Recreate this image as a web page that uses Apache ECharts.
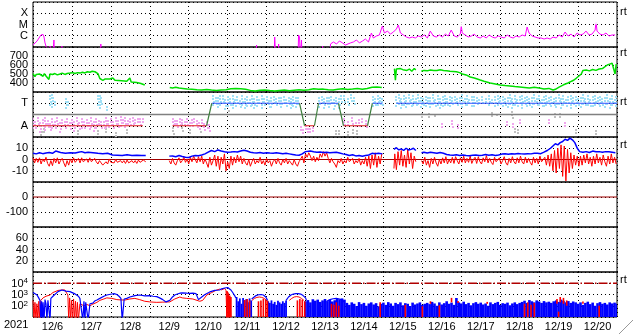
<!DOCTYPE html>
<html><head><meta charset="utf-8">
<script src="https://cdn.jsdelivr.net/npm/echarts@6/dist/echarts.min.js"></script>
<style>html,body{margin:0;padding:0;background:#fff}#c{width:633px;height:334px}</style>
</head><body><div id="c"></div>
<script>
// ---------- time axis (hours from 2021-12-06 00:00) ----------
const dayLabels = ['12/6','12/7','12/8','12/9','12/10','12/11','12/12','12/13','12/14','12/15','12/16','12/17','12/18','12/19','12/20'];
const yearLabel = '2021';
const xrayLevelLabels = {'-4':'X','-5':'M','-6':'C'};
const sectorLabels = {'270':'T','90':'A'};

// ---------- panel 1: X-ray flux (W/m2) ----------
const xrayFlux = [
[0,1.5e-7],[1.2,1.85e-7],[2.5,3.4e-7],[3.7,6.3e-7],[4.9,1.17e-6],[6.2,1.3e-6],[6.8,7.7e-7],[7.4,2.3e-7],[8,1.2e-7],[8.6,1e-8],
[10.2,1e-8],[10.5,1.2e-7],[11.7,1.2e-7],[12.1,1e-8],[12.6,1e-8],[12.9,4.2e-7],[13.3,1e-8],
[17.5,1e-8],[17.8,1.2e-7],[18.3,1e-8],[41.5,1e-8],[41.8,1.85e-7],[42.3,1e-8],
[137.5,1e-8],[137.8,1.5e-7],[138.2,1e-8],[148.6,1e-8],[149,7.7e-7],[149.6,1e-8],
[151.1,1e-8],[151.4,1.85e-7],[151.8,1e-8],[163.4,1e-8],[163.7,1.17e-6],[164.3,7.7e-7],[164.8,1e-8],
[165.2,1e-8],[165.5,4.2e-7],[165.9,1e-8],[178.2,1e-8],[178.5,1.2e-7],[178.9,1e-8],[183,1e-8],
[183.4,1.85e-7],[185.2,2.8e-7],[187.1,1.85e-7],[188.9,3.4e-7],[190.8,2.3e-7],[192.6,1.5e-7],[193.8,1.2e-7],[195.7,2.3e-7],[197.5,2.8e-7],[199.4,4.2e-7],
[201.2,2.3e-7],[203.1,3.4e-7],[204.9,5.1e-7],[206.8,2.8e-7],[208.6,1.75e-6],[209.8,6.3e-7],[211.7,9.5e-7],[213.5,1.17e-6],[215.4,7.4e-6],[216.6,1.75e-6],
[218.5,2.6e-6],[220.3,1.4e-6],[222.2,2.15e-6],[224,4e-6],[225.2,9e-6],[226.5,1.75e-6],[228.3,1.17e-6],[230.2,7.7e-7],[232,6.3e-7],[233.8,7.7e-7],
[235.7,6.3e-7],[237.5,9.5e-7],[239.4,7.7e-7],[241.2,1.17e-6],[243.1,6.3e-7],[244.9,2.6e-6],[246.8,9.5e-7],[248.6,7.7e-7],[250.5,1.17e-6],[252.3,7.7e-7],
[254.2,1.4e-6],[256,9.5e-7],[257.8,3.2e-6],[259.7,9.5e-7],[261.5,7.7e-7],[263.4,1.4e-6],[264,7.4e-6],[264.6,1.75e-6],[266.5,1.17e-6],[268.3,7.7e-7],
[270.2,9.5e-7],[272,1.4e-6],[273.8,7.7e-7],[275.7,6.3e-7],[277.5,9.5e-7],[279.4,6.3e-7],[281.2,1.17e-6],[283.1,7.7e-7],[284.9,6.3e-7],[286.8,9.5e-7],
[288.6,7.7e-7],[290.5,6.3e-7],[292.3,1.17e-6],[294.2,7.7e-7],[296,6.3e-7],[297.8,9.5e-7],[299.7,7.7e-7],[301.5,1.17e-6],[303.4,9.5e-7],[304.6,6e-6],
[305.8,1.75e-6],[307.7,9.5e-7],[309.5,7.7e-7],[311.4,6.3e-7],[313.2,6.3e-7],[315.1,5.1e-7],[316.9,6.3e-7],[318.8,5.1e-7],[320.6,7.7e-7],[322.5,6.3e-7],
[324.3,1.17e-6],[326.2,7.7e-7],[328,2.15e-6],[329.8,9.5e-7],[331.7,1.4e-6],[333.5,7.7e-7],[335.4,1.75e-6],[337.2,1.17e-6],[339.1,1.4e-6],[340.9,2.6e-6],
[342.8,1.17e-6],[344.6,1.4e-6],[346.5,3.2e-6],[347.1,1.67e-5],[347.7,2.6e-6],[349.5,1.4e-6],[351.4,1.17e-6],[353.2,1.75e-6],[355.1,9.5e-7],[356.9,1.17e-6],[358.8,1.17e-6]
];
const flarePeaks = [[264,1.3e-5],[347.1,2e-5]];

// ---------- panel 2: solar wind speed (km/s) ----------
const windSpeed = [
[0,505],[1.2,470],[2,495],[3.1,480],[4,500],[4.9,490],[6.2,475],[7,505],[8,478],[9.2,490],[9.8,440],[10.5,500],[12,495],[13.5,505],[15,490],[16.6,500],
[18,510],[19.7,495],[21,505],[22.8,510],[24.5,515],[25.8,505],[27.5,515],[28.9,510],[30.5,520],[32,512],[33.5,525],[35.1,520],[36.5,530],[38.2,525],
[40,505],[41.2,450],[43.1,430],[44.5,445],[45.5,440],[47.4,445],[49.2,455],[50.5,430],[51.7,422],[54.8,425],[57.8,420],[59.7,455],[60.5,410],[61.5,400],
[64,405],[66.5,395],[68.9,378],[69,null],
[84.3,350],[86,345],[88,352],[90,344],[92.3,340],[95,333],[98,330],[101,325],[104,322],[107,328],[110,322],[113,318],[116,322],[119,325],[122,335],
[125,340],[128,336],[131,330],[134,318],[137,312],[140,320],[143,322],[146,316],[149,312],[152,318],[155,322],[158,315],[161,320],[164,325],[167,320],
[170,325],[173,335],[176,330],[179,332],[182,325],[185,322],[188,330],[191,335],[194,328],[197,332],[200,338],[203,330],[206,340],[209,352],[212,356],
[215,350],[215.2,null],
[222.8,560],[223.4,430],[224,555],[225,545],[226.5,560],[228,548],[229,565],[230.5,540],[232,555],[233.5,530],[235,560],[236,545],[236.2,null],
[239.4,530],[241,540],[243,535],[245,545],[247,540],[249,538],[251,548],[253,540],[255,535],[257,530],[259,528],[261,525],[263,515],[264.6,500],
[267,490],[269.5,467],[272,455],[275.7,433],[278,420],[281.8,400],[285,390],[288,378],[291,372],[294,367],[297,360],[300,355],[303,350],[306,345],
[309,352],[312,344],[315,333],[318,340],[320.6,322],[322,330],[324.3,355],[327,380],[329.8,400],[332,420],[333.5,433],[335,455],[336.5,478],[338,500],
[339,540],[341,545],[343,535],[345,550],[347,540],[349,555],[351,560],[352,580],[354,600],[355.5,610],[357,620],[358,600],[358.8,500],[359.5,610]
];

// ---------- panel 3: IMF sector (phi, deg) ----------
const phiToward = [
[10.5,256,336],[11.5,232,352],[12.5,272,320],[13.5,248,300],[20.3,216,312],[21.5,240,296],[40,256,336],[41,232,344],[42,264,320],[45.5,216,256],
[111,240,336],[112.5,256,328],[114,232,320],[115.5,248,344],[117,264,336],[118.5,224,312],[120,240,328],[121.5,256,320],[123,232,336],[124.5,248,312],
[126,264,328],[127.5,240,304],[129,256,336],[130.5,232,320],[132,248,328],[133.5,240,312],[135,256,336],[136.5,224,320],[138,240,328],[139.5,256,312],
[141,232,336],[142.5,248,320],[144,264,328],[145.5,240,304],[147,224,320],[148.5,256,336],[150,240,312],[151.5,248,328],[153,232,320],[154.5,256,336],
[156,240,304],[157.5,264,328],[159,232,312],[160.5,248,336],[162,240,320],[163.5,256,328],
[176.5,240,320],[178,256,336],[179.5,232,312],[181,248,328],[182.5,240,320],[184,256,336],[185.5,224,304],[187,248,328],[188.5,232,312],
[190,264,344],[192,272,336],[194,256,320],[196,280,344],[198,264,328],
[209.5,248,328],[211,256,320],[212.5,240,336],[214,264,328],[215.3,248,312],
[224,240,336],[225.5,256,344],[227,232,320],[228.5,248,336],[230,240,328],[231.5,264,344],[233,232,312],[234.5,248,336],[236,240,320],[237.5,256,344],
[239,232,328],[240.5,248,312],[242,240,336],[243.5,256,320],[245,232,328],[246.5,248,344],[248,240,312],[249.5,256,336],[251,224,320],[252.5,248,328],
[254,240,344],[255.5,256,312],[257,232,336],[258.5,248,320],[260,264,336],[261.5,240,312],[263,256,328],[264.5,232,344],[266,248,320],[267.5,240,336],
[269,256,312],[270.5,232,328],[272,248,336],[273.5,264,320],[275,256,312],[277,264,328],[279,272,320],[281,256,336],[283,264,312],[285,248,328],
[286.5,240,344],[288,256,320],[289.5,232,336],[291,248,312],[292.5,240,328],[294,256,344],[295.5,232,320],[297,248,336],[298.5,240,312],[300,256,328],
[301.5,232,344],[303,248,320],[304.5,240,336],[306,256,312],[307.5,232,328],[309,248,344],[310.5,240,320],[312,256,336],[313.5,232,312],[315,248,328],
[316.5,240,344],[318,256,320],[319.5,232,336],[321,248,312],[322.5,240,328],[324,256,344],[325.5,224,320],[327,248,336],[328.5,240,312],[330,256,328],
[331.5,232,344],[333,248,320],[334.5,240,336],[336,256,312],[337.5,232,328],[339,248,344],[340.5,240,320],[342,256,336],[343.5,232,312],[345,248,328],
[346.5,240,344],[348,256,320],[349.5,232,336],[351,248,312],[352.5,240,328],[354,256,344],[355.5,232,320],[357,248,336],[358.5,240,312],[359.5,256,328]
];
const phiAway = [
[0,72,152],[1.5,56,136],[3,88,160],[4.5,40,128],[6,72,144],[7.5,56,168],[9,80,136],[10.5,48,120],[12,72,152],[13.5,64,136],[15,88,160],[16.5,40,128],
[18,72,144],[19.5,56,136],[21,80,152],[22.5,64,128],[24,72,144],[25.5,48,136],[27,88,160],[28.5,56,128],[30,72,152],[31.5,64,136],[33,80,144],
[34.5,56,128],[36,72,160],[37.5,48,136],[39,64,152],[40.5,88,144],[42,56,128],[43.5,72,136],[45,80,160],[46.5,64,144],[48,88,152],[49.5,72,136],
[51,96,160],[52.5,80,144],[54,88,168],[55.5,96,152],[57,80,160],[58.5,104,144],[60,88,152],[61.5,96,168],[63,104,144],[64.5,112,160],[66,96,152],[67.5,104,160],
[86,80,152],[87.5,96,144],[89,72,136],[90.5,88,160],[92,104,144],[93.5,80,136],[95,96,152],[96.5,72,128],[98,88,144],[99.5,104,160],[101,80,136],
[102.5,64,128],[104,72,144],[105.5,48,120],[107,56,128],[108.5,40,112],
[165,40,88],[166.5,32,72],[168,48,96],[169.5,32,80],[171,40,72],[172.5,48,88],
[192,88,152],[194,80,136],[196.5,96,160],[199,72,128],[201,88,144],[203,104,160],[205,80,136],
[252,64,120],[258,80,136],[262,72,112],[292,88,128],[296,72,120],[300,96,144],[318,104,152],[328,80,120]
];
const phiOther = [
[5,16,96],[7,24,80],[28,8,56],[40,16,64],[45,24,72],[51,8,48],[58,16,64],[86,24,88],[92,40,104],[97,16,72],[103,24,96],
[121,200,224],[187,16,56],[188.5,24,64],[194,8,48],[197,16,72],[200,24,56],[240,152,200],[244,160,192],[248,152,184],[283,152,200],[286,160,192],
[295,152,208],[297,24,80],[299,16,64],[322,152,200],[325,160,192],[335,16,72],[347,8,56]
];
const sectorLine = [[0,90],[67.7,90],[67.7,null],[86,null],[86,90],[107,90],[110.2,270],[164.3,270],[167.4,90],[173.5,90],[176,270],[188.3,270],
[191.4,90],[206.2,90],[209.2,270],[215.4,270],[215.4,null],[224,null],[224,270],[360,270]];
const sectorMid = [[0,180],[360,180]];

// ---------- panel 4: IMF Bt / Bz (nT) ----------
const btData = [
[0,5.5],[2,5],[4,6],[6,5.2],[8,5.8],[10,6.2],[12,5.5],[14,7.5],[15,6],[17,6.2],[20,5.5],[23,6],[26,5.8],[28,6.5],[30,7],[32,6],[34,6.4],[37,6],[40,5.5],
[43,5.2],[46,5.5],[49,4],[52,3.8],[55,3.6],[58,4.2],[61,3.6],[64,3.8],[67,3.6],[69.5,3.6],[69.6,null],
[84,3],[86,3.2],[88,2.5],[90,3.5],[92,2.6],[94,2],[96,1.8],[98,3],[100,3.6],[102,3.4],[104,4],[106,5],[108,6.5],[110,8],[112,7],[114,8.5],[116,7.5],
[118,6.8],[120,6.5],[122,6.6],[124,7],[126,6.6],[128,7.5],[130,8.2],[132,7.6],[134,6.4],[136,6],[138,5.8],[140,6.2],[142,5.5],[144,6],[146,5.7],
[148,5.5],[150,6],[152,5.6],[154,5.2],[156,5.5],[158,5],[160,4.5],[162,4],[164,3.8],[166,5],[168,7],[169,8],[171,7.5],[173,6.8],[175,6.4],[177,6.6],
[179,6.2],[181,6.4],[183,6],[185,6.2],[187,6.4],[189,5.8],[191,5],[193,4.5],[195,3.6],[197,4.2],[199,3.2],[201,3.5],[203,2.8],[205,3.5],[207,4],
[209,5.5],[211,5.2],[213,5.5],[215.4,5],[215.5,null],
[222.5,9],[224,10.5],[225.5,8.5],[227,9.5],[228.5,8],[230,10],[231.5,8.5],[233,9],[234.5,10],[236,8],[236.1,null],
[239.5,6],[241,6.5],[243,5.8],[245,6.4],[247,6],[249,5.5],[251,6.2],[253,5.6],[255,4.5],[257,4],[259,3.8],[261,4.2],[263,3.6],[265,4],[267,3.6],
[269,3.4],[271,3.8],[273,4],[275,3.6],[277,3.8],[279,4.4],[281,3.8],[283,4.2],[285,3.6],[287,4],[289,4.8],[291,5.2],[293,4.6],[295,5.2],[297,4.8],[299,5.4],
[301,5],[303,4.8],[305,5.2],[307,5],[309,5.5],[311,5.6],[313,5.2],[315,6.5],[317,8],[319,10],[320.5,12],[322,14],[323.5,13],[325,15],[326.5,16],
[328,18],[329.5,17],[331,19],[332.5,17.5],[334,15],[335.5,10],[337,7],[339,6.5],[341,7],[343,6.2],[345,7.5],[347,6.8],[349,7],[351,6.5],[353,7],
[355,6.8],[357,6.5],[359,6]
];
const bzData = [
[0,1.5],[1,-3],[2,1],[3,-2.5],[4,1.5],[5,-4],[6,0.5],[7,-2],[8,2],[9,-3.5],[10,-6],[11,-1],[12,-5.5],[13,1],[14,-3],[15,1.5],[16,-4],[17,-1],[18,1],
[19,-3],[20,-6.5],[21,-1],[22,-5],[23,0.5],[24,-3],[25,1.5],[26,-2.5],[27,-4],[28,1],[29,-3],[30,1.5],[31,-2],[32,-3.5],[33,0.5],[34,-2.5],[35,1.5],
[36,-2],[37,-3],[38,1],[39,-2],[40,-4],[41,-1],[42,-3],[43,-5],[44,-6.5],[45,-2],[46,-4],[47,0.5],[48,-2.5],[49,-1],[50,-3],[51,0],[52,-2.5],[53,-4],
[54,-1],[55,-3],[56,-1],[57,-3.5],[58,-0.5],[59,-3],[60,-4],[61,-1],[62,-3],[63,-1],[64,-3.5],[65,-0.5],[66,-2.5],[67,-3],[68,-0.5],[69.5,-2],[69.6,null],
[84,-1],[85,-4],[86,1],[87,-3],[88,-5],[89,-1],[90,1.5],[91,-3],[92,-1],[93,2],[94,-2.5],[95,0.5],[96,-4],[97,2],[98,-2],[99,3],[100,0],[101,-3],
[102,2.5],[103,-2],[104,3],[105,-4],[106,0.5],[107,-3],[108,-7],[109,2],[110,-5],[111,-1],[112,4],[113,-6],[114,3],[115,-9],[116,2],[117,-4],[118,5],
[119,-10],[120,-2],[121,-8],[122,3],[123,-5],[124,2],[125,-3],[126,4],[127,-2],[128,3],[129,-4],[130,1],[131,-3],[132,-5],[133,0],[134,-6],[135,-2],
[136,1],[137,-4],[138,-1],[139,-3],[140,2],[141,-4],[142,-1],[143,-5],[144,1],[145,-3],[146,-1],[147,-6],[148,-2],[149,0],[150,-4],[151,1],[152,-3],
[153,-5],[154,0],[155,-3],[156,1],[157,-4],[158,-1],[159,-3],[160,-5],[161,0],[162,-4],[163,-6],[164,-2],[165,-1],[166,3],[167,-3],[168,5],[169,2],
[170,6],[171,3],[172,-1],[173,3],[174,-2],[175,2],[176,-1],[177,5],[178,2],[179,7],[180,3],[181,6],[182,1],[183,-3],[184,1],[185,-2],[186,-4],[187,-7],
[188,-1],[189,-3],[190,1],[191,-4],[192,-1],[193,-3],[194,2],[195,-2],[196,-3],[197,1],[198,-4],[199,-1],[200,-3],[201,1],[202,-5],[203,-1],[204,-4],
[205,2],[206,-6],[207,3],[208,-8],[209,4],[210,-5],[211,6],[212,-7],[213,3],[214,-4],[215,5],[215.2,null],
[222.5,-8],[223,5],[224,-9],[225,7],[226,-5],[227,8],[228,-6],[229,4],[230,-7],[231,9],[232,-4],[233,6],[234,-8],[235,3],[236,-2],[236.1,null],
[239.5,-1],[240.5,-4],[241.5,2],[242.5,-5],[243.5,-1],[244.5,-7],[245.5,1],[246.5,-4],[247.5,2],[248.5,-3],[249.5,-6],[250.5,0],[251.5,-4],[252.5,1.5],
[253.5,-3],[254.5,2.5],[255.5,-4],[256.5,0],[257.5,-3],[258.5,2],[259.5,-3.5],[260.5,2.5],[261.5,-1],[262.5,-4],[263.5,1.5],[264.5,-2.5],[265.5,3],
[266.5,-3],[267.5,1],[268.5,-2.5],[269.5,3],[270.5,-3.5],[271.5,0],[272.5,2],[273.5,-3.5],[274.5,2.5],[275.5,-2],[276.5,-4],[277.5,1.5],[278.5,-2],
[279.5,3.5],[280.5,-3],[281.5,1],[282.5,-2.5],[283.5,-4.5],[284.5,2],[285.5,-2],[286.5,-3.5],[287.5,1.5],[288.5,-4],[289.5,-1],[290.5,2.5],[291.5,-3],
[292.5,-5],[293.5,1],[294.5,-3],[295.5,2.5],[296.5,-2],[297.5,-4],[298.5,1.5],[299.5,-3],[300.5,3],[301.5,-2],[302.5,-4],[303.5,2],[304.5,-3],[305.5,1],
[306.5,-2.5],[307.5,-5],[308.5,2],[309.5,-3],[310.5,1],[311.5,-4],[312.5,3],[313.5,-2],[314.5,-3],[315.5,2],[316.5,-5],[317.5,4],[318.5,-6],[319.5,5],
[320.5,-10],[321.5,8],[322.5,-12],[323.5,10],[324.5,-8],[325.5,13],[326.5,-15],[327.5,12],[328.5,-19],[329.5,9],[330.5,-12],[331.5,6],[332.5,-8],
[333.5,4],[334.5,-5],[335.5,3],[336.5,-6],[337.5,3],[338.5,-5],[339.5,4],[340.5,-3],[341.5,5],[342.5,-4],[343.5,2],[344.5,-6],[345.5,3],[346.5,-4],
[347.5,5],[348.5,-3],[349.5,2],[350.5,-5],[351.5,4],[352.5,-2],[353.5,-6],[354.5,3],[355.5,-4],[356.5,5],[357.5,-3],[358.5,2],[359.5,-4]
];
const bZero = [[0,0],[360,0]];
// ---------- panel 5: Dst (nT) – no data, reference only ----------
const dstZero = [[0,0],[360,0]];

// ---------- panel 7: electron flux ----------
const eBlueLine = [
[0,1500],[1.2,2000],[2.5,900],[3.5,500],[4.3,300],[4.8,5],[5.3,250],[5.8,5],[6.2,200],[6.8,5],[7.4,350],[8,150],[8.6,5],[9.2,300],[10,400],[10.5,5],
[11,450],[12.3,700],[13.5,1000],[15.4,1800],[16.5,2400],[17.8,2500],[19,2300],[20.3,2000],[22.8,1800],[24,1600],[25.5,1200],[26.5,1000],[28,700],
[28.9,450],[30,300],[30.7,5],[31.4,250],[32,5],[32.5,200],[33.2,180],[34,5],[35.1,150],[36,200],[36.9,170],[38,260],[39.4,330],[41.2,450],[43.7,700],
[45.5,900],[48.6,1100],[50,1200],[51.7,1000],[53,700],[54.2,450],[55,5],[55.6,5],[56.2,400],[57.8,450],[59.7,600],[62.8,800],[65.8,900],[68.9,750],
[72,800],[74,700],[76.3,650],[78,500],[80,350],[82,220],[84.3,300],[86,600],[87.4,900],[89,1100],[90.5,1300],[92,1400],[94.8,1300],[96.5,1250],
[98.5,1300],[100.5,1200],[102,350],[102.8,300],[104.6,700],[106,1000],[107.1,1300],[109,1700],[110.2,2000],[112,2300],[113.2,2600],[115,2500],
[116.3,3200],[118.2,3800],[120,4200],[121,3500],[122,2500],[123.1,1500],[124.3,800],[125,500],[125.5,null],
[134.8,400],[136,600],[137.5,800],[139,950],[140.5,1000],[142,900],[143.5,600],[144.6,300],[144.7,null],
[156,300],[157.5,600],[159,900],[160.5,1100],[162,1200],[163.5,1200],[165,1100],[166.5,800],[168,500],[168.6,300],[168.7,null],
[181,250],[183,350],[185,420],[187,450],[189,400],[191,300],[192,200]
];
const eRedLine = [
[0,300],[0.6,5],[1.2,200],[1.8,5],[2.4,150],[3,5],[3.6,250],[4.2,5],[4.8,300],[5.5,400],[6.2,500],[8,700],[10.5,900],[12.3,1500],[13.5,1900],
[15.4,2300],[17.8,2500],[19.5,2600],[20.3,2400],[21.5,900],[22,5],[22.6,500],[23.2,5],[23.8,300],[24.4,5],[25,400],[25.6,5],[26.2,250],[26.8,5],
[27.4,200],[28,5],[28.9,150],[30,120],[31.4,100],[33.2,130],[35.1,100],[36.9,140],[38,120],[39.4,200],[41.2,300],[43.7,400],[45.5,500],[48.6,450],
[51.7,350],[54.2,330],[56.6,320],[59.7,400],[62.8,450],[65.8,350],[68.9,250],[72,220],[76.3,200],[80,210],[84.3,220],[87.4,400],[90.5,600],[92,500],
[94.8,450],[98.5,400],[102.8,250],[104.6,300],[107.1,900],[110.2,1500],[113.2,2500],[115,3000],[116.3,2600],[118.2,3500],[119,2200],[119.5,5],
[120.2,1500],[120.8,5],[121.5,500],[122,5],[122.5,null],
[135,300],[136.5,450],[138,550],[139.5,600],[141,550],[142.5,450],[144,300],[144.1,null],
[158,300],[159.5,450],[161,600],[162.5,650],[164,600],[165.5,450],[167,300]
];
const eBlueFillEarly = [
[125.5,600],[126.5,250],[127.5,450],[128.5,150],[129.5,500],[130.5,300],[131.5,400],[132.5,200],[133.5,450],[134.5,300],
[145,250],[146,180],[147,300],[148,150],[149,220],[150,120],[151,280],[152,200],[153,150],[154,250],[155,180],[156,300]
];
const eBlueFillStart = 168, eBlueFillStep = 1.5;
const eBlueFillLate = [
250,320,200,380,280,350,220,300,400,260,330,240,310,
420,380,450,350,
180,120,200,150,95,210,140,180,100,160,200,130,170,90,150,190,120,210,160,100,180,140,200,110,170,150,95,190,130,160,200,120,150,
180,140,220,160,100,200,130,170,250,150,190,120,490,200,160,230,140,180,110,170,210,150,190,130,160,100,200,140,180,220,120,170,150,190,110,160,200,140,180,
220,280,180,320,250,200,300,240,180,260,200,230,
180,250,300,220,350,280,200,260,180,240,200,
150,200,120,180,230,140,190,100,170,210,150,180,130,200,160,190,150
];
const eRedFill = [
[119.6,10,2000],[120.5,10,1200],[121.3,10,800],[122,10,600],[130.5,10,324],[132,10,400],[133.5,10,300],[139,10,250],[140.5,10,300],[142,10,400],
[143.5,10,350],[144.5,10,300],[163,10,300],[164.5,10,400],[166,10,350],[167.5,10,250],[184,10,150],[185.5,10,120],[187,10,200],[188.5,10,100],
[214,10,200],[229.5,10,120],[240,10,90],[245,150,250],[250.5,10,110],[258,200,500],[262,180,260],[280,150,220],[303,10,150],[305,10,200],[307,10,120],
[309,10,180],[323,150,400],[324,10,30],[325,200,600],[327,150,500],[329,100,300],[339,150,240],[349,10,100]
];
const eThreshold = [[0,1e4],[360,1e4]];

// ---------- build chart ----------
const FONT = "'Liberation Sans', Arial, sans-serif";
const tops = [2,47,92,137,182,227,272];
const H = 45;
const gaps = d => d.map(p => (p[1] == null ? [p[0], '-'] : p));

const grids = tops.map(t => ({left:33, width:584, top:t, height:H, show:true, borderColor:'#000', borderWidth:1, backgroundColor:'transparent'}));
const dotted = {show:true, lineStyle:{color:'#000', width:1, type:[1,3]}};
const xAxes = tops.map((t,i) => ({type:'value', gridIndex:i, min:0, max:360, interval:24, position: i===6 ? 'top' : 'bottom',
  axisLine:{show:false}, axisTick:{show:false}, axisLabel:{show:false}, splitLine:dotted}));
xAxes.push({type:'value', gridIndex:6, min:0, max:360, interval:12, position:'bottom',
  axisLine:{show:false}, axisTick:{show:false}, splitLine:{show:false},
  axisLabel:{show:true, margin:4, color:'#000', fontSize:11, fontFamily:FONT, showMinLabel:false, showMaxLabel:false,
    formatter: v => (v % 24 === 12 ? dayLabels[(v - 12) / 24] : '')}});

const lab = (extra) => Object.assign({show:true, color:'#000', fontSize:11, fontFamily:FONT, margin:5, showMinLabel:false, showMaxLabel:false}, extra||{});
const yBase = {axisLine:{show:false}, axisTick:{show:false}, splitLine:dotted};
const yAxes = [
  Object.assign({type:'log', logBase:10, gridIndex:0, min:1e-7, max:1e-3, axisLabel:lab({formatter: v => xrayLevelLabels[String(Math.round(Math.log10(v)))] || ''})}, yBase),
  Object.assign({type:'value', gridIndex:1, min:300, max:800, interval:100, axisLabel:lab()}, yBase),
  Object.assign({type:'value', gridIndex:2, min:0, max:360, interval:90, axisLabel:lab({formatter: v => sectorLabels[String(v)] || ''})}, yBase),
  Object.assign({type:'value', gridIndex:3, min:-20, max:20, interval:10, axisLabel:lab()}, yBase),
  Object.assign({type:'value', gridIndex:4, min:-200, max:100, interval:100, axisLabel:lab()}, yBase),
  Object.assign({type:'value', gridIndex:5, min:0, max:80, interval:20, axisLabel:lab()}, yBase),
  Object.assign({type:'log', logBase:10, gridIndex:6, min:10, max:1e5, axisLabel:lab({
      formatter: v => '{b|10}{s|' + Math.round(Math.log10(v)) + '}',
      rich:{b:{fontSize:11, fontFamily:FONT, color:'#000', verticalAlign:'bottom', lineHeight:12},
            s:{fontSize:8, fontFamily:FONT, color:'#000', verticalAlign:'top', lineHeight:9, padding:[0,0,4,0]}}})}, yBase)
];

function lineS(i, data, color, width, z, extra) {
  return Object.assign({type:'line', xAxisIndex:i, yAxisIndex:i, data:gaps(data), showSymbol:false, symbol:'none',
    lineStyle:{color, width}, itemStyle:{color}, z, clip:true, silent:true, connectNulls:false, animation:false}, extra||{});
}
// solid vertical range streaks (electron fills)
function streakS(i, data, color, widthH, z) {
  return {type:'custom', xAxisIndex:i, yAxisIndex:i, data, z, silent:true, clip:true, animation:false,
    encode:{x:0, y:[1,2]},
    renderItem(params, api) {
      const h = api.value(0), lo = api.value(1), hi = api.value(2);
      const a = api.coord([h - widthH/2, hi]);
      const b = api.coord([h + widthH/2, lo]);
      return {type:'rect', shape:{x:a[0], y:a[1], width:Math.max(1, b[0]-a[0]), height:Math.max(1, b[1]-a[1])}, style:{fill:color}};
    }};
}
// speckled vertical range streaks (phi samples), pixel aligned
function dotStreakS(i, data, color, z) {
  return {type:'custom', xAxisIndex:i, yAxisIndex:i, data, z, silent:true, clip:true, animation:false,
    encode:{x:0, y:[1,2]},
    renderItem(params, api) {
      const h = api.value(0), lo = api.value(1), hi = api.value(2);
      const a = api.coord([h, hi]);
      const b = api.coord([h, lo]);
      const x0 = Math.round(a[0]) - 1;
      const kids = [];
      let k = 0;
      for (let y = Math.round(a[1]) + (params.dataIndex % 2); y < Math.round(b[1]); y += 3, k++) {
        kids.push({type:'rect', shape:{x:x0 + (k % 3 === 2 ? 1 : 0), y:y, width:2, height:2}, style:{fill:color}});
      }
      return {type:'group', children:kids};
    }};
}
function splitSector(pts) {
  const T=[], A=[], R=[];
  for (let k=0; k<pts.length-1; k++) {
    const a=pts[k], b=pts[k+1];
    if (a[1]==null || b[1]==null) continue;
    const tgt = a[1]===b[1] ? (a[1]===270 ? T : A) : R;
    tgt.push(a, b, [b[0], null]);
  }
  return {T, A, R};
}
const sec = splitSector(sectorLine);
const eLate = eBlueFillLate.map((v,k) => [eBlueFillStart + k*eBlueFillStep, 10, v]);
const eEarly = eBlueFillEarly.map(p => [p[0], 10, p[1]]);

const series = [
  lineS(0, xrayFlux, '#ff00ff', 1, 3),
  {type:'scatter', xAxisIndex:0, yAxisIndex:0, data:flarePeaks, symbol:'emptyCircle', symbolSize:5,
    itemStyle:{color:'#fff', borderColor:'#0000ff', borderWidth:1.2}, z:4, silent:true, animation:false},
  lineS(1, windSpeed, '#00e000', 1.5, 3),
  dotStreakS(2, phiOther, '#c0c0c0', 2),
  dotStreakS(2, phiAway, '#f0a8ee', 2),
  dotStreakS(2, phiToward, '#a0e0f6', 2),
  lineS(2, sectorMid, '#808080', 1.5, 3),
  lineS(2, sec.T, '#3050ff', 1.2, 4),
  lineS(2, sec.A, '#e02020', 1.2, 4),
  lineS(2, sec.R, '#408040', 1.2, 4),
  lineS(3, bZero, '#a00000', 1, 2),
  lineS(3, bzData, '#ff0000', 1, 3),
  lineS(3, btData, '#0000ff', 1.5, 4),
  lineS(4, dstZero, '#a00000', 1.2, 3),
  streakS(6, eEarly, '#0000ff', 1.1, 2),
  streakS(6, eLate, '#0000ff', 1.6, 2),
  streakS(6, eRedFill, '#ff0000', 1.0, 3),
  lineS(6, eRedLine, '#ff0000', 1, 4),
  lineS(6, eBlueLine, '#0000ff', 1.2, 5),
  lineS(6, eThreshold, '#b00000', 1.5, 6, {lineStyle:{color:'#b00000', width:1.5, type:[9,2,1.5,2]}})
];

const rtY = [12, 53, 102, 145, 280];
const graphics = rtY.map(y => ({type:'text', left:620, top:y-6, style:{text:'rt', fontSize:11, fontFamily:FONT, fill:'#000'}}));
graphics.push({type:'text', left:4, top:319, style:{text:yearLabel, fontSize:11, fontFamily:FONT, fill:'#000'}});
[0,4,8].forEach(d => graphics.push({type:'line', shape:{x1:633-d, y1:334-14+d, x2:633-14+d, y2:334-d+0}, style:{stroke:'#999', lineWidth:1}}));

const chart = echarts.init(document.getElementById('c'), null, {renderer:'canvas'});
chart.setOption({animation:false, backgroundColor:'#fff', grid:grids, xAxis:xAxes, yAxis:yAxes, series, graphic:graphics});
</script></body></html>
